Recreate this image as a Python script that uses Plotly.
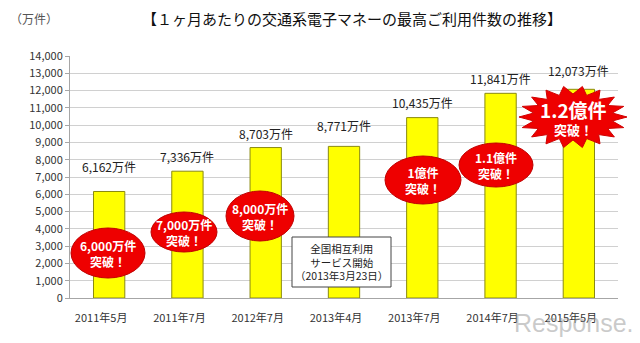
import plotly.graph_objects as go
import math

categories = ["2011年5月", "2011年7月", "2012年7月", "2013年4月", "2013年7月", "2014年7月", "2015年5月"]
values = [6162, 7336, 8703, 8771, 10435, 11841, 12073]
value_labels = ["6,162万件", "7,336万件", "8,703万件", "8,771万件", "10,435万件", "11,841万件", "12,073万件"]
badge_texts = ["6,000万件<br>突破！", "7,000万件<br>突破！", "8,000万件<br>突破！", None,
               "1億件<br>突破！", "1.1億件<br>突破！", None]
y_ticks = list(range(0, 14001, 1000))
y_tick_labels = [f"{v:,}" for v in y_ticks]

W, H = 640, 343
L, R, T, B = 70, 22, 56, 45
PW, PH = W - L - R, H - T - B

def px(x):
    return (x - L) / PW

def py(y):
    return (H - B - y) / PH

FONT = "Noto Sans CJK JP"

fig = go.Figure()
fig.add_trace(go.Bar(
    x=categories, y=values, width=0.4,
    marker=dict(color="#FFFF00", line=dict(color="#8A8A10", width=1)),
    hoverinfo="skip",
))

annotations = []
label_lift = [25, 15, 14, 21, 15, 15, 19]
for c, v, t, lift in zip(categories, values, value_labels, label_lift):
    annotations.append(dict(x=c, y=v, xref="x", yref="y", text=t, showarrow=False,
                            xanchor="center", yanchor="middle", yshift=lift,
                            font=dict(family=FONT, size=12, color="#222222")))

def pnote(x, y, text, font, align="center"):
    return dict(x=px(x), y=py(y), xref="paper", yref="paper", text=text, showarrow=False,
                xanchor="center", yanchor="middle", align=align, font=font)

shapes = []
# red ellipse badges (pixel centre, half-width, half-height)
ellipse_geo = [(108, 253, 37, 25), (184, 232, 33, 20), (260, 216, 34, 25), None,
               (423, 180, 38, 24), (496, 165, 37, 22), None]
for geo, txt in zip(ellipse_geo, badge_texts):
    if geo is None or txt is None:
        continue
    cx, cy, rx, ry = geo
    shapes.append(dict(type="circle", xref="paper", yref="paper", layer="above",
                       x0=px(cx - rx), x1=px(cx + rx), y0=py(cy + ry), y1=py(cy - ry),
                       fillcolor="#EE0000", line=dict(color="#C00000", width=1)))
    annotations.append(pnote(cx, cy, txt, dict(family=FONT, size=12, color="white", weight="bold")))

# starburst for 1.2億件
scx, scy, srx, sry = 573, 117, 54, 31
n = 18
pts = []
for i in range(2 * n):
    ang = math.pi * i / n
    k = 1.0 if i % 2 == 0 else 0.74
    pts.append((scx + srx * k * math.cos(ang), scy + sry * k * math.sin(ang)))
path = "M " + " L ".join(f"{px(x):.5f},{py(y):.5f}" for x, y in pts) + " Z"
shapes.append(dict(type="path", xref="paper", yref="paper", layer="above", path=path,
                   fillcolor="#EE0000", line=dict(color="#D00000", width=1)))
annotations.append(pnote(scx, scy - 8, "1.2億件", dict(family=FONT, size=19, color="white", weight="bold")))
annotations.append(pnote(scx, scy + 12, "突破！", dict(family=FONT, size=13, color="white", weight="bold")))

# note box
shapes.append(dict(type="rect", xref="paper", yref="paper", layer="above",
                   x0=px(292), x1=px(391), y0=py(287), y1=py(237),
                   fillcolor="white", line=dict(color="#444444", width=1)))
annotations.append(pnote(341.5, 262, "全国相互利用<br>サービス開始<br>（2013年3月23日）",
                         dict(family=FONT, size=10.5, color="#222222")))

# titles
annotations.append(pnote(352, 19, "【１ヶ月あたりの交通系電子マネーの最高ご利用件数の推移】",
                         dict(family=FONT, size=15, color="#111111")))
annotations.append(pnote(34, 19, "（万件）", dict(family=FONT, size=12, color="#555555")))
# watermark
annotations.append(pnote(574, 323, "Response.",
                         dict(family="Liberation Sans", size=25, color="rgba(150,150,150,0.5)")))

fig.update_layout(
    width=W, height=H, margin=dict(l=L, r=R, t=T, b=B),
    paper_bgcolor="white", plot_bgcolor="white", showlegend=False,
    annotations=annotations, shapes=shapes, bargap=0.6,
    font=dict(family=FONT, size=11, color="#333333"),
)
fig.update_xaxes(showline=True, linecolor="#A6A6A6", linewidth=1, ticks="", tickfont=dict(size=11),
                 ticklabelshift=-8, ticklabelstandoff=10)
fig.update_yaxes(range=[0, 14000], tickvals=y_ticks, ticktext=y_tick_labels, showgrid=True,
                 gridcolor="#D0D0D0", gridwidth=1, showline=True, linecolor="#A6A6A6",
                 ticks="outside", ticklen=4, tickcolor="#A6A6A6", tickfont=dict(size=11),
                 zeroline=False)

fig.write_html("out.html")
